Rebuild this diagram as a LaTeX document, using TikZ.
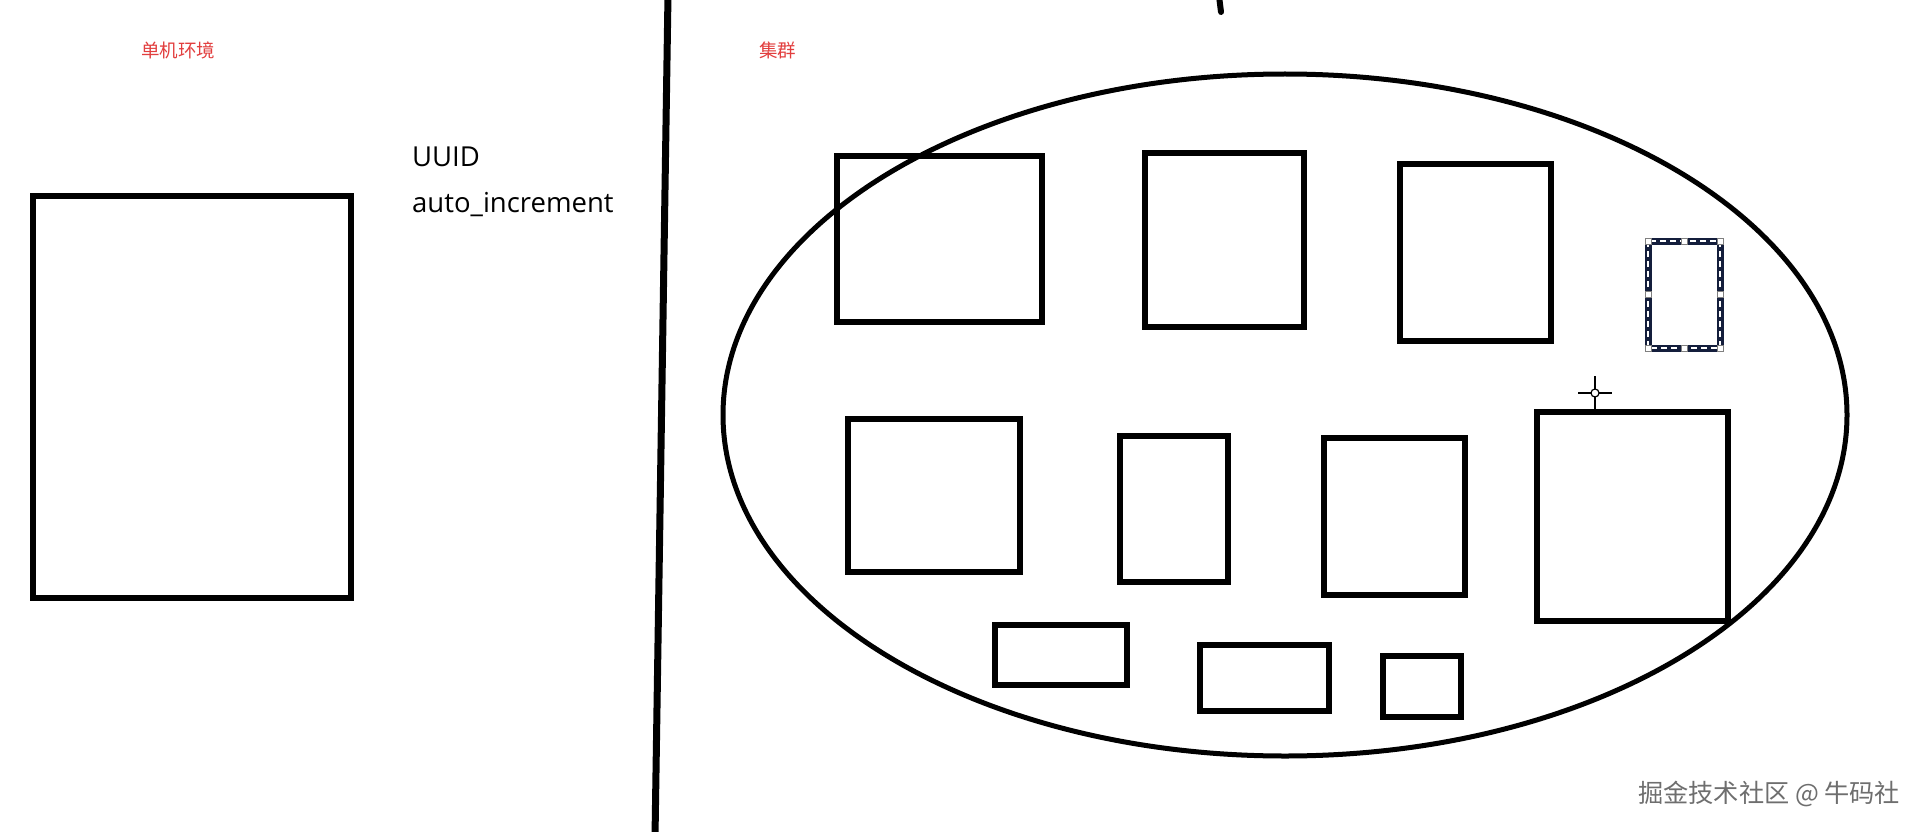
\documentclass[tikz,border=0pt]{standalone}
\usepackage{fontspec}
\setmainfont{Open Sans}
\newfontfamily\cjk{Noto Sans CJK SC}
\usetikzlibrary{positioning}
\definecolor{titlered}{RGB}{226,62,62}
\definecolor{markgray}{RGB}{110,110,110}
\definecolor{selblue}{RGB}{20,30,60}

\begin{document}
\begin{tikzpicture}[x=1pt,y=-1pt,
  every node/.style={align=center},
  box/.style={draw,line width=6pt,inner sep=0pt,outer sep=0pt},
  title/.style={text=titlered,font=\cjk\fontsize{18.5}{20}\selectfont,inner sep=0pt,anchor=west},
  keyword/.style={font=\fontsize{27.5}{32}\selectfont,inner sep=0pt,anchor=base west},
  handle/.style={draw=gray,fill=white,line width=0.8pt,minimum size=6pt,inner sep=0pt}]
\useasboundingbox (0,0) rectangle (1922,832);
\fill[white] (0,0) rectangle (1922,832);

% single machine side
\node[title] (SingleTitle) at (141,50) {单机环境};
\node[box,minimum width=318pt,minimum height=402pt] (SingleDb) at (192,397) {};
\node[keyword] (Uuid) at (412,167) {UUID};
\node[keyword] (AutoInc) at (412,212) {auto\_increment};

% divider
\coordinate (DivTop) at (668,-5);
\coordinate (DivBottom) at (655,837);
\draw[line width=7pt] (DivTop) -- (DivBottom);
\coordinate (MarkTop) at (1219,-4);
\coordinate (MarkBottom) at (1221,12);
\draw[line width=6pt,line cap=round] (MarkTop) -- (MarkBottom);

% cluster side
\node[title] (ClusterTitle) at (759,50) {集群};
\coordinate (Cluster) at (1285,415);
\draw[line width=5pt] (Cluster) ellipse [x radius=562, y radius=341];

\node[box,minimum width=205pt,minimum height=166pt] (Shard1) at (939.5,239) {};
\node[box,minimum width=159pt,minimum height=174pt] (Shard2) at (1224.5,240) {};
\node[box,minimum width=151pt,minimum height=177pt] (Shard3) at (1475.5,252.5) {};
\node[box,draw=selblue,line width=7pt,minimum width=72pt,minimum height=107pt] (Shard4) at (1684,294.5) {};
\node[box,minimum width=172pt,minimum height=153pt] (Shard5) at (934,495.5) {};
\node[box,minimum width=108pt,minimum height=146pt] (Shard6) at (1174,509) {};
\node[box,minimum width=141pt,minimum height=157pt] (Shard7) at (1394.5,516.5) {};
\node[box,minimum width=191pt,minimum height=209pt] (Shard8) at (1632.5,516.5) {};
\node[box,minimum width=132pt,minimum height=60pt] (Shard9) at (1061,655) {};
\node[box,minimum width=129pt,minimum height=66pt] (Shard10) at (1264.5,678) {};
\node[box,minimum width=78pt,minimum height=61pt] (Shard11) at (1422,686.5) {};

% selected shape
\draw[white,line width=1.2pt,dash pattern=on 6pt off 4pt] (Shard4.north west) rectangle (Shard4.south east);
\foreach \a [count=\i] in {north west,north,north east,east,south east,south,south west,west}
  \node[handle] (Handle\i) at (Shard4.\a) {};

% cursor
\coordinate (Cursor) at (1595,393);
\draw[line width=1.5pt] (Cursor) ++(-17,0) -- ++(34,0) (Cursor) ++(0,-17) -- ++(0,34);
\draw[line width=1.2pt,fill=white] (Cursor) circle [radius=4];

% watermark
\node[text=markgray,font=\cjk\fontsize{25.2}{27}\selectfont,inner sep=0pt,anchor=west] (Watermark) at (1638,794) {掘金技术社区 @ 牛码社};
\end{tikzpicture}
\end{document}
